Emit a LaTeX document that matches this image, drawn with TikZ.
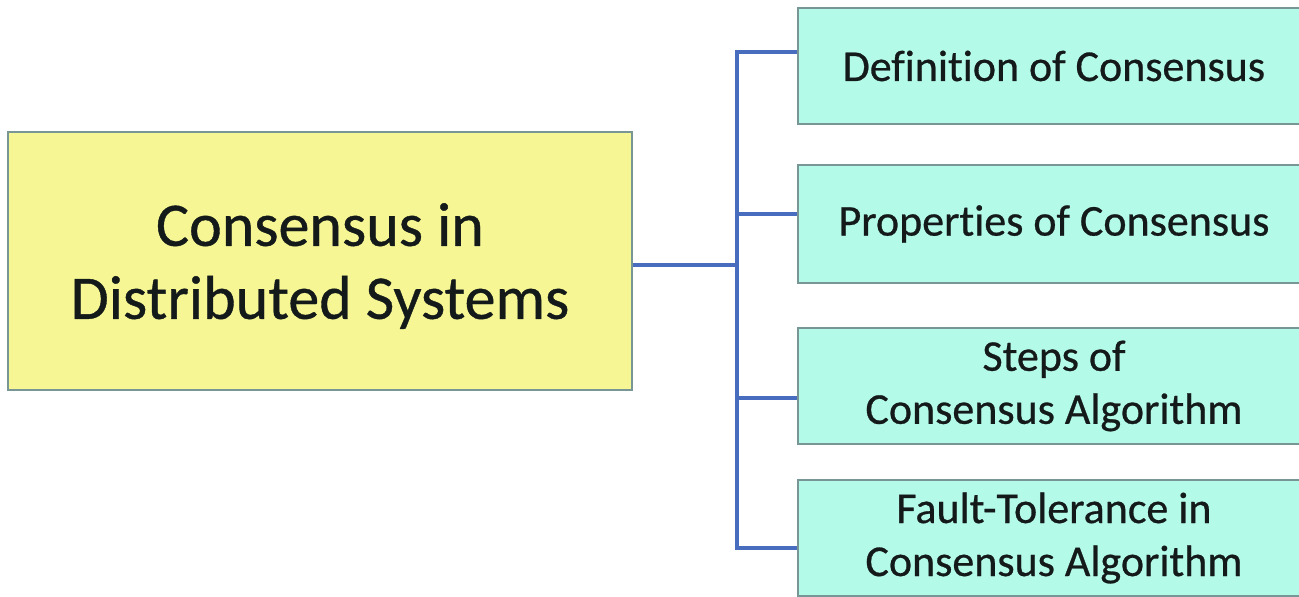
\documentclass[tikz,border=0pt]{standalone}
\usepackage{fontspec}
\setmainfont[Ligatures={NoCommon}, FakeBold=0.6]{Carlito}
\definecolor{mainfill}{RGB}{246,247,148}
\definecolor{subfill}{RGB}{180,250,232}
\definecolor{boxline}{RGB}{120,150,150}
\definecolor{connblue}{RGB}{72,108,190}
\definecolor{txt}{RGB}{20,25,25}
\tikzset{
  mainbox/.style={draw=boxline, line width=1.8pt, fill=mainfill, minimum width=624pt, minimum height=258pt, align=center, inner sep=0pt, text=txt, font=\fontsize{62}{73}\selectfont\bfseries},
  subbox/.style={draw=boxline, line width=1.8pt, fill=subfill, minimum width=512pt, minimum height=116pt, align=center, inner sep=0pt, text=txt, font=\fontsize{44}{53}\selectfont\bfseries},
  conn/.style={draw=connblue, line width=3.5pt}
}
\begin{document}
\begin{tikzpicture}[x=1pt,y=1pt]
\clip (0,0) rectangle (1299,-597);
\fill[white] (0,0) rectangle (1299,-597);
\node[mainbox] (main) at (320,-261) {};
\node[align=center, text=txt, font=\fontsize{62}{73}\selectfont] (mt) at (320,-266) {Consensus in\\Distributed Systems};
\node[subbox] (b1) at (1054,-66) {};
\node[font=\fontsize{44}{53}\selectfont, text=txt] (l1) at (b1) {Definition of Consensus};
\node[subbox, minimum height=118pt] (b2) at (1054,-224) {};
\node[font=\fontsize{44}{53}\selectfont, text=txt] (l2) at (b2) {Properties of Consensus};
\node[subbox] (b3) at (1054,-386) {};
\node[font=\fontsize{44}{53}\selectfont, text=txt, align=center] (l3) at (b3) {Steps of\\Consensus Algorithm};
\node[subbox] (b4) at (1054,-538) {};
\node[font=\fontsize{44}{53}\selectfont, text=txt, align=center] (l4) at (b4) {Fault-Tolerance in\\Consensus Algorithm};
\coordinate (j) at (737,-265);
\coordinate (t1) at ([yshift=14pt]b1.west);
\coordinate (t2) at ([yshift=10pt]b2.west);
\coordinate (t3) at ([yshift=-12pt]b3.west);
\coordinate (t4) at ([yshift=-10pt]b4.west);
\draw[conn] (main.east |- j) -- (j);
\draw[conn] (t1) -- (t1 -| j) -- (t4 -| j) -- (t4);
\draw[conn] (t2) -- (t2 -| j);
\draw[conn] (t3) -- (t3 -| j);
\end{tikzpicture}
\end{document}
